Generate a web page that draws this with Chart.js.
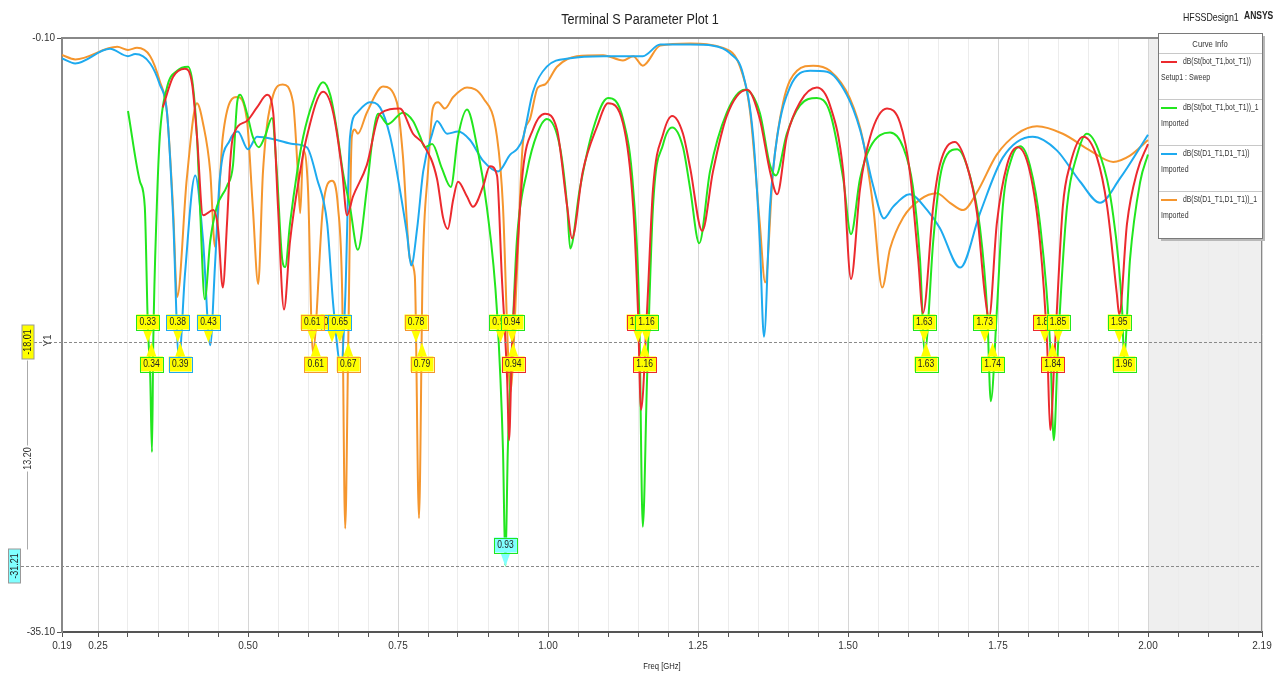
<!DOCTYPE html>
<html>
<head>
<meta charset="utf-8">
<title>Terminal S Parameter Plot 1</title>
<script src="https://cdn.jsdelivr.net/npm/chart.js@4.4.1/dist/chart.umd.min.js"></script>
<style>
body{margin:0;background:#fff;}
#wrap{width:1285px;height:674px;position:relative;}
</style>
</head>
<body>
<div id="wrap"><canvas id="myChart"></canvas></div>
<script>
// tick labels
const xTickLabels = ['0.19','0.25','0.50','0.75','1.00','1.25','1.50','1.75','2.00','2.19'];
const yTickLabels = [-35.10, -0.10];

// dB(St(bot_T1,bot_T1)) - Setup1 : Sweep
const redFreq = [0.358,0.375,0.395,0.407,0.415,0.425,0.442,0.45,0.458,0.465,0.47,0.475,0.498,0.515,0.532,0.542,0.55,0.56,0.57,0.587,0.598,0.625,0.642,0.657,0.665,0.675,0.698,0.72,0.753,0.775,0.792,0.815,0.825,0.833,0.842,0.85,0.865,0.875,0.892,0.903,0.915,0.923,0.932,0.935,0.94,0.948,0.958,0.975,0.995,1.015,1.032,1.04,1.058,1.082,1.10,1.125,1.142,1.15,1.155,1.165,1.175,1.192,1.207,1.225,1.237,1.257,1.275,1.298,1.332,1.353,1.37,1.382,1.398,1.42,1.448,1.47,1.492,1.505,1.52,1.537,1.565,1.587,1.603,1.617,1.625,1.642,1.653,1.678,1.698,1.715,1.728,1.735,1.748,1.765,1.783,1.803,1.82,1.832,1.837,1.845,1.858,1.87,1.892,1.915,1.932,1.948,1.952,1.965,1.982,2.0];
const redDb = [-4.19,-2.40,-1.91,-2.84,-5.92,-10.55,-10.24,-11.29,-14.8,-11.04,-7.59,-5.92,-4.99,-4.19,-3.45,-4.50,-10.05,-16.1,-12.09,-7.96,-5.92,-3.27,-4.50,-7.96,-10.55,-9.44,-7.59,-4.56,-4.26,-5.74,-6.35,-8.39,-10.67,-11.35,-9.62,-8.57,-9.44,-10.05,-8.82,-7.65,-8.20,-14.12,-20.29,-23.8,-18.26,-13.14,-7.96,-5.49,-4.56,-5.49,-10.05,-11.90,-7.96,-5.30,-3.95,-5.12,-10.05,-16.22,-22.0,-16.22,-9.00,-5.74,-4.69,-5.74,-7.77,-11.47,-7.96,-4.69,-3.15,-4.87,-7.96,-9.31,-5.92,-3.88,-3.02,-4.07,-7.96,-14.3,-9.00,-5.92,-4.26,-5.12,-7.96,-13.14,-16.3,-10.05,-7.59,-6.23,-7.59,-10.42,-15.17,-16.6,-11.04,-7.59,-6.54,-7.96,-12.09,-18.26,-23.2,-18.26,-10.05,-7.59,-5.92,-7.15,-10.05,-15.17,-16.4,-11.04,-7.96,-6.35];

// dB(St(bot_T1,bot_T1))_1 - Imported
const greenFreq = [0.30,0.32,0.328,0.333,0.337,0.34,0.342,0.348,0.353,0.365,0.382,0.40,0.408,0.415,0.42,0.428,0.437,0.448,0.465,0.475,0.482,0.487,0.498,0.508,0.518,0.528,0.54,0.548,0.557,0.562,0.57,0.582,0.592,0.608,0.625,0.637,0.648,0.658,0.67,0.683,0.698,0.708,0.717,0.733,0.758,0.775,0.787,0.795,0.807,0.823,0.838,0.85,0.865,0.882,0.898,0.915,0.925,0.929,0.933,0.94,0.948,0.965,0.982,0.998,1.02,1.032,1.037,1.053,1.075,1.10,1.125,1.142,1.152,1.158,1.165,1.175,1.192,1.207,1.225,1.237,1.252,1.27,1.298,1.328,1.353,1.37,1.38,1.398,1.42,1.448,1.47,1.492,1.505,1.52,1.537,1.57,1.592,1.608,1.62,1.628,1.642,1.653,1.665,1.682,1.703,1.72,1.732,1.738,1.748,1.758,1.773,1.787,1.803,1.82,1.837,1.843,1.85,1.865,1.882,1.898,1.92,1.94,1.957,1.96,1.97,1.987,2.0];
const greenDb = [-4.4,-8.57,-10.05,-17.0,-20.0,-24.5,-18.26,-10.05,-5.92,-3.02,-2.03,-1.79,-2.84,-5.92,-10.05,-15.5,-12.09,-10.05,-8.82,-7.59,-3.88,-3.45,-4.50,-5.92,-6.54,-5.92,-4.81,-7.96,-13.14,-13.6,-11.04,-7.96,-5.92,-3.88,-2.71,-3.45,-5.49,-7.96,-10.05,-12.58,-9.00,-5.92,-4.56,-5.18,-4.50,-4.99,-5.92,-6.54,-6.35,-7.77,-8.88,-5.92,-4.32,-6.54,-10.05,-16.22,-24.42,-31.2,-24.4,-18.26,-12.09,-7.96,-5.74,-4.87,-6.54,-10.05,-12.5,-9.00,-5.49,-3.64,-4.87,-9.00,-16.22,-28.9,-20.29,-10.05,-6.35,-5.37,-6.54,-9.00,-12.2,-7.96,-4.50,-3.15,-4.50,-7.59,-8.20,-5.74,-4.07,-3.64,-4.50,-8.39,-11.66,-8.39,-6.54,-5.67,-6.54,-8.82,-13.14,-18.6,-12.09,-8.39,-6.97,-6.66,-8.20,-11.29,-16.22,-21.5,-16.22,-10.05,-7.15,-6.48,-7.59,-11.04,-18.26,-23.8,-18.26,-10.05,-6.97,-5.74,-6.97,-10.05,-16.22,-18.9,-13.14,-8.57,-6.97];

// dB(St(D1_T1,D1_T1)) - Imported
const blueFreq = [0.19,0.212,0.27,0.30,0.312,0.337,0.353,0.365,0.375,0.385,0.395,0.412,0.425,0.437,0.445,0.453,0.47,0.483,0.50,0.515,0.548,0.575,0.598,0.615,0.632,0.642,0.655,0.662,0.67,0.682,0.703,0.72,0.737,0.753,0.765,0.772,0.782,0.792,0.807,0.815,0.832,0.85,0.87,0.892,0.917,0.937,0.948,0.958,0.975,0.998,1.037,1.092,1.137,1.158,1.187,1.237,1.275,1.303,1.325,1.342,1.353,1.36,1.37,1.382,1.403,1.437,1.465,1.498,1.52,1.542,1.56,1.575,1.603,1.632,1.653,1.687,1.72,1.758,1.808,1.848,1.887,1.92,1.953,2.0];
const blueDb = [-1.3,-1.60,-0.74,-1.17,-1.05,-1.60,-2.84,-4.50,-10.5,-19.0,-14.0,-8.20,-12.0,-18.2,-13.5,-8.39,-6.11,-5.61,-6.66,-5.92,-6.11,-6.35,-6.54,-8.39,-11.04,-15.79,-19.4,-15.5,-5.92,-4.50,-3.88,-4.19,-5.92,-9.00,-11.66,-13.51,-11.29,-7.96,-5.74,-4.99,-5.74,-5.61,-6.11,-7.34,-7.96,-6.97,-6.66,-6.04,-3.27,-1.79,-1.29,-1.17,-1.17,-1.17,-0.49,-0.49,-0.55,-0.99,-2.22,-5.92,-12.09,-17.7,-10.05,-5.92,-3.02,-2.03,-2.09,-3.45,-5.49,-8.82,-10.73,-10.05,-9.31,-10.24,-11.29,-13.63,-10.42,-7.15,-5.92,-6.72,-8.57,-9.81,-8.39,-5.80];

// dB(St(D1_T1,D1_T1))_1 - Imported
const orangeFreq = [0.19,0.212,0.282,0.30,0.315,0.337,0.353,0.365,0.375,0.382,0.398,0.415,0.425,0.437,0.445,0.458,0.482,0.498,0.508,0.517,0.525,0.542,0.558,0.575,0.583,0.587,0.592,0.600,0.608,0.625,0.64,0.65,0.657,0.662,0.667,0.673,0.678,0.683,0.698,0.725,0.748,0.758,0.77,0.778,0.785,0.791,0.80,0.808,0.817,0.828,0.842,0.865,0.892,0.915,0.925,0.933,0.937,0.948,0.958,0.97,0.983,0.995,1.015,1.048,1.092,1.125,1.142,1.158,1.187,1.237,1.292,1.32,1.337,1.353,1.362,1.375,1.392,1.415,1.442,1.47,1.503,1.525,1.542,1.557,1.57,1.592,1.62,1.648,1.67,1.692,1.715,1.748,1.782,1.815,1.858,1.903,1.942,1.97,2.0];
const orangeDb = [-1.1,-1.36,-0.62,-0.80,-0.68,-1.17,-2.65,-4.50,-10.05,-15.36,-8.39,-3.95,-5.12,-7.96,-12.4,-5.92,-3.58,-4.87,-10.05,-14.6,-7.96,-3.45,-2.84,-3.88,-7.96,-10.42,-6.72,-9.00,-18.6,-10.05,-8.51,-10.05,-15.17,-29.0,-18.3,-5.92,-5.49,-5.74,-4.50,-2.96,-3.88,-6.97,-13.14,-14.12,-28.4,-14.0,-7.96,-4.26,-3.88,-4.26,-3.58,-3.02,-3.64,-5.92,-10.05,-18.26,-21.0,-14.12,-6.35,-4.87,-3.02,-2.84,-1.79,-1.17,-1.11,-1.42,-1.17,-1.73,-0.55,-0.43,-0.68,-1.79,-4.50,-11.04,-14.5,-7.96,-3.88,-2.03,-1.73,-2.03,-3.64,-6.11,-10.05,-14.8,-12.52,-10.67,-9.62,-9.25,-9.81,-10.24,-9.19,-6.97,-5.74,-5.30,-5.74,-6.72,-7.40,-7.03,-6.11];

// markers on the -18.01 / -31.21 lines
const markerLevel = -18.01;
const markerLevel2 = -31.21;
const topFreq  = [0.333,0.383,0.434,0.64,0.607,0.653,0.78,0.921,0.94,1.15,1.164,1.627,1.728,1.828,1.85,1.952];
const topText  = ['0.33','0.38','0.43','0.64','0.61','0.65','0.78','0.92','0.94','1.15','1.16','1.63','1.73','1.83','1.85','1.95'];
const topColor = ['g','b','b','b','o','b','o','g','g','r','g','g','g','r','g','g'];
const botFreq  = [0.339,0.387,0.613,0.667,0.79,0.942,1.161,1.63,1.741,1.841,1.96];
const botText  = ['0.34','0.39','0.61','0.67','0.79','0.94','1.16','1.63','1.74','1.84','1.96'];
const botColor = ['g','b','o','o','o','r','r','g','g','r','g'];
const minFreq = 0.929, minText = '0.93';

const colors = {r:'#ec2a2e', g:'#22e61e', b:'#1eaaef', o:'#f5962e'};
const FONT = "'Liberation Sans Narrow','Liberation Sans',Arial,sans-serif";

function pts(fr, db) { return fr.map((f,i) => ({x:f, y:db[i]})); }

// narrow text (the original uses a condensed face)
function narrow(ctx, txt, x, y, sx) {
    ctx.save();
    ctx.translate(x, y);
    ctx.scale(sx || 0.82, 1);
    ctx.fillText(txt, 0, 0);
    ctx.restore();
}

// x grid every 0.05 GHz
const xGrid = [0.19];
for (let k = 5; k <= 43; k++) xGrid.push(Math.round(k*5)/100);
xGrid.push(2.19);

const decorPlugin = {
    id: 'decor',
    beforeDraw(chart) {
        const {ctx, chartArea: a, scales: {x}} = chart;
        // shaded area beyond 2.00
        ctx.save();
        ctx.fillStyle = '#efefef';
        const x0 = x.getPixelForValue(2.0);
        ctx.fillRect(x0, a.top, a.right - x0, a.bottom - a.top);
        ctx.restore();
    },
    afterDatasetsDraw(chart) {
        const {ctx, chartArea: a, scales: {x, y}} = chart;
        const y1 = Math.round(y.getPixelForValue(markerLevel)) + 0.5;
        const y2 = Math.round(y.getPixelForValue(markerLevel2)) + 0.5;
        ctx.save();
        // dashed marker lines
        ctx.strokeStyle = '#8a8a8a';
        ctx.lineWidth = 1;
        ctx.setLineDash([3,2]);
        ctx.beginPath();
        ctx.moveTo(34, y1); ctx.lineTo(a.right, y1);
        ctx.moveTo(21, y2); ctx.lineTo(a.right, y2);
        ctx.stroke();
        ctx.setLineDash([]);
        // delta line
        ctx.strokeStyle = '#aaa';
        ctx.beginPath();
        ctx.moveTo(27.5, y1 + 18); ctx.lineTo(27.5, y2 - 17);
        ctx.stroke();
        // top border + right border
        ctx.strokeStyle = '#888';
        ctx.lineWidth = 2;
        ctx.beginPath();
        ctx.moveTo(a.left, a.top); ctx.lineTo(a.right, a.top);
        ctx.stroke();
        ctx.lineWidth = 1;
        ctx.beginPath();
        ctx.moveTo(a.right - 0.5, a.top); ctx.lineTo(a.right - 0.5, a.bottom);
        ctx.stroke();

        ctx.font = '10px ' + FONT;
        ctx.textAlign = 'center';
        ctx.textBaseline = 'middle';
        const bw = 23, bh = 15;
        function box(cx, top, txt, border, fill) {
            ctx.fillStyle = fill;
            ctx.fillRect(cx - bw/2, top, bw, bh);
            ctx.strokeStyle = border;
            ctx.lineWidth = 1;
            ctx.strokeRect(Math.round(cx - bw/2) + 0.5, Math.round(top) + 0.5, bw, bh);
            ctx.fillStyle = '#222';
            narrow(ctx, txt, cx, top + bh/2 + 0.5, 0.85);
        }
        function tri(cx, yb, yt, fill) {
            ctx.fillStyle = fill;
            ctx.beginPath();
            ctx.moveTo(cx - 5, yb); ctx.lineTo(cx + 5, yb); ctx.lineTo(cx, yt);
            ctx.closePath();
            ctx.fill();
        }
        topFreq.forEach((f, i) => {
            const cx = x.getPixelForValue(f);
            tri(cx, y1 - 13, y1, '#ffff00');
            box(cx, y1 - 28, topText[i], colors[topColor[i]], '#ffff00');
        });
        botFreq.forEach((f, i) => {
            const cx = x.getPixelForValue(f);
            tri(cx, y1 + 14, y1, '#ffff00');
            box(cx, y1 + 14, botText[i], colors[botColor[i]], '#ffff00');
        });
        const mx = x.getPixelForValue(minFreq);
        tri(mx, y2 - 14, y2, '#80ffff');
        box(mx, y2 - 29, minText, colors.g, '#80ffff');

        // left value labels (rotated)
        function vlabel(cx, cy, w, h, txt, fill) {
            ctx.save();
            ctx.translate(cx, cy);
            ctx.rotate(-Math.PI/2);
            ctx.fillStyle = fill;
            ctx.fillRect(-h/2, -w/2, h, w);
            ctx.strokeStyle = '#999';
            ctx.strokeRect(-h/2, -w/2, h, w);
            ctx.fillStyle = '#222';
            narrow(ctx, txt, 0, 0.5, 0.9);
            ctx.restore();
        }
        vlabel(28, y1 - 0.5, 12, 34, markerLevel.toFixed(2), '#ffff00');
        vlabel(14.5, y2 - 0.5, 12, 34, markerLevel2.toFixed(2), '#80ffff');
        ctx.save();
        ctx.translate(27.5, (y1 + y2)/2 + 4);
        ctx.rotate(-Math.PI/2);
        ctx.fillStyle = '#fff';
        ctx.fillRect(-13, -6, 26, 12);
        ctx.fillStyle = '#333';
        narrow(ctx, (markerLevel - markerLevel2).toFixed(2), 0, 0.5, 0.9);
        ctx.restore();
        ctx.save();
        ctx.translate(48, y1 - 2);
        ctx.rotate(-Math.PI/2);
        ctx.fillStyle = '#444';
        ctx.fillText('Y1', 0, 0);
        ctx.restore();
        ctx.restore();
    },
    afterDraw(chart) {
        const {ctx} = chart;
        ctx.save();
        // titles
        ctx.fillStyle = '#222';
        ctx.textBaseline = 'middle';
        ctx.textAlign = 'center';
        ctx.font = '14px ' + FONT;
        narrow(ctx, 'Terminal S Parameter Plot 1', 640, 20, 0.9);
        ctx.font = '9px ' + FONT;
        narrow(ctx, 'Freq [GHz]', 662, 667, 0.85);
        ctx.textAlign = 'left';
        ctx.font = '11px ' + FONT;
        narrow(ctx, 'HFSSDesign1', 1183, 18, 0.8);
        ctx.font = 'bold 10px ' + FONT;
        narrow(ctx, 'ANSYS', 1244, 16, 0.85);

        // Curve Info box
        const L = 1158, T = 33, W = 104, H = 205;
        ctx.fillStyle = '#b8b8b8';
        ctx.fillRect(L + 3, T + 3, W, H);
        ctx.fillStyle = '#fff';
        ctx.fillRect(L, T, W, H);
        ctx.strokeStyle = '#7a7a7a';
        ctx.lineWidth = 1;
        ctx.strokeRect(L + 0.5, T + 0.5, W, H);
        ctx.font = '9px ' + FONT;
        ctx.textAlign = 'center';
        ctx.fillStyle = '#333';
        narrow(ctx, 'Curve Info', L + W/2, 45, 0.85);
        const seps = [53, 99, 145, 191];
        const subs = ['Setup1 : Sweep', 'Imported', 'Imported', 'Imported'];
        ctx.strokeStyle = '#c8c8c8';
        chart.data.datasets.forEach((ds, i) => {
            const s = seps[i];
            ctx.beginPath();
            ctx.moveTo(L + 1, s + 0.5); ctx.lineTo(L + W, s + 0.5);
            ctx.stroke();
            ctx.strokeStyle = ds.borderColor;
            ctx.lineWidth = 2;
            ctx.beginPath();
            ctx.moveTo(L + 3, s + 9); ctx.lineTo(L + 19, s + 9);
            ctx.stroke();
            ctx.lineWidth = 1;
            ctx.strokeStyle = '#c8c8c8';
            ctx.textAlign = 'left';
            ctx.fillStyle = '#333';
            ctx.font = '8.5px ' + FONT;
            narrow(ctx, ds.label, L + 25, s + 9, 0.8);
            narrow(ctx, subs[i], L + 3, s + 25, 0.82);
        });
        ctx.restore();
    }
};

const ctx = document.getElementById('myChart').getContext('2d');
const myChart = new Chart(ctx, {
    type: 'line',
    data: {
        datasets: [
            {label: 'dB(St(bot_T1,bot_T1))', data: pts(redFreq, redDb), borderColor: colors.r},
            {label: 'dB(St(bot_T1,bot_T1))_1', data: pts(greenFreq, greenDb), borderColor: colors.g},
            {label: 'dB(St(D1_T1,D1_T1))', data: pts(blueFreq, blueDb), borderColor: colors.b},
            {label: 'dB(St(D1_T1,D1_T1))_1', data: pts(orangeFreq, orangeDb), borderColor: colors.o}
        ]
    },
    options: {
        responsive: true,
        maintainAspectRatio: false,
        animation: false,
        layout: {padding: {top: 38, right: 23, left: 0, bottom: 0}},
        elements: {
            point: {radius: 0},
            line: {borderWidth: 2, cubicInterpolationMode: 'monotone', fill: false}
        },
        plugins: {legend: {display: false}, title: {display: false}, tooltip: {enabled: false}},
        scales: {
            x: {
                type: 'linear',
                min: 0.19, max: 2.19,
                afterBuildTicks: (s) => { s.ticks = xGrid.map(v => ({value: v})); },
                afterFit: (s) => { s.height = 42; },
                grid: {
                    color: (c) => xTickLabels.includes(Number(c.tick && c.tick.value).toFixed(2)) ? '#d6d6d6' : '#ececec',
                    tickColor: '#555', tickLength: 5
                },
                border: {color: '#555', width: 2},
                ticks: {
                    autoSkip: false, maxRotation: 0, padding: 3, color: '#333',
                    font: {family: FONT, size: 10},
                    callback: (v) => { const t = Number(v).toFixed(2); return xTickLabels.includes(t) ? t : ''; }
                }
            },
            y: {
                min: -35.10, max: -0.10,
                afterBuildTicks: (s) => { s.ticks = yTickLabels.map(v => ({value: v})); },
                afterFit: (s) => { s.width = 62; },
                grid: {drawOnChartArea: false, tickColor: '#555', tickLength: 5},
                border: {color: '#888', width: 2},
                ticks: {
                    padding: 2, color: '#333',
                    font: {family: FONT, size: 10},
                    callback: (v) => Number(v).toFixed(2)
                }
            }
        }
    },
    plugins: [decorPlugin]
});
</script>
</body>
</html>
